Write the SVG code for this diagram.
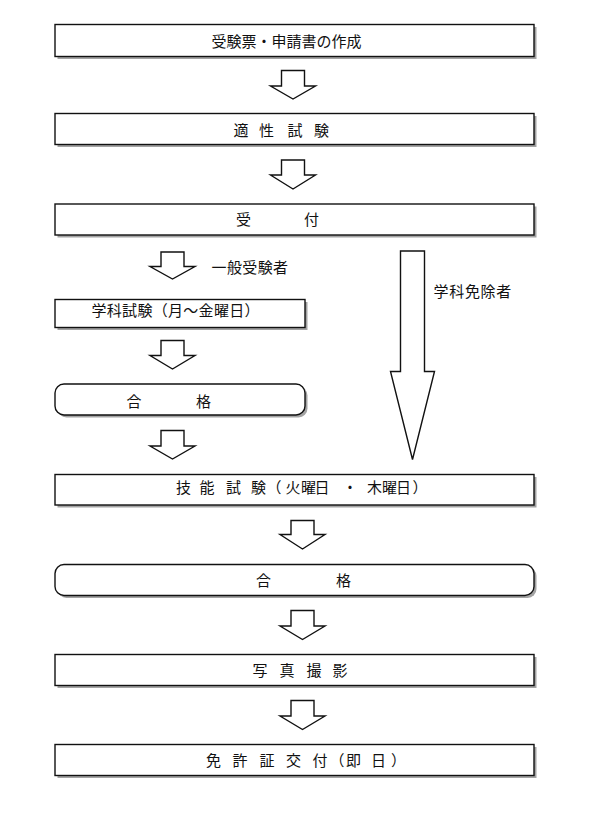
<svg xmlns="http://www.w3.org/2000/svg" width="590" height="820" viewBox="0 0 590 820">
<defs>
<style>
.bg{fill:#ffffff}
.shadow{fill:#a3a3a3;stroke:none}
.box{fill:#ffffff;stroke:#111111;stroke-width:1.4}
.arrow{fill:#ffffff;stroke:#111111;stroke-width:1.4;stroke-linejoin:miter}
text{font-family:"Noto Sans CJK JP","Noto Sans CJK SC",sans-serif;font-size:15px;fill:#111111}
</style>
</defs>
<rect class="bg" x="0" y="0" width="590" height="820"/>

<g id="connectors">
  <polygon class="arrow" points="281.5,70.5 304.5,70.5 304.5,86 315.5,86 293,99 270.5,86 281.5,86"/>
  <polygon class="arrow" points="281.5,160 304.5,160 304.5,175 315.5,175 293,189 270.5,175 281.5,175"/>
  <polygon class="arrow" points="161,252 184,252 184,266.5 195,266.5 172.5,279 150,266.5 161,266.5"/>
  <text x="211.5" y="273" letter-spacing="0.4">一般受験者</text>
  <polygon class="arrow" points="161,340.5 184,340.5 184,355.5 195,355.5 172.5,369 150,355.5 161,355.5"/>
  <polygon class="arrow" points="161,430.5 184,430.5 184,446 195,446 172.5,459 150,446 161,446"/>
  <polygon class="arrow" points="400.5,251 424.5,251 424.5,371.5 434.5,371.5 412.5,459.5 390.5,371.5 400.5,371.5"/>
  <text x="433.5" y="297.3" letter-spacing="0.7">学科免除者</text>
  <polygon class="arrow" points="291,520.5 314,520.5 314,534.5 325,534.5 302.5,549 280,534.5 291,534.5"/>
  <polygon class="arrow" points="291,610.5 314,610.5 314,626 325,626 302.5,639.5 280,626 291,626"/>
  <polygon class="arrow" points="291,700.5 314,700.5 314,716 325,716 302.5,729.5 280,716 291,716"/>
</g>

<g id="node-sakusei">
  <rect class="shadow" x="57.5" y="27" width="479" height="32"/>
  <rect class="box" x="55" y="24.5" width="479" height="32"/>
  <text x="211.5" y="47.3">受験票・申請書の作成</text>
</g>

<g id="node-tekisei">
  <rect class="shadow" x="57.5" y="116" width="479" height="31"/>
  <rect class="box" x="55" y="113.5" width="479" height="31"/>
  <text x="233.5 248.5 259 274 287.5 302.5 314" y="136.3">適 性 試 験</text>
</g>

<g id="node-uketsuke">
  <rect class="shadow" x="57.5" y="206.5" width="479" height="31"/>
  <rect class="box" x="55" y="204" width="479" height="31"/>
  <text x="236 251 304" y="225">受 付</text>
</g>

<g id="node-gakka">
  <rect class="shadow" x="57.5" y="302" width="250" height="28"/>
  <rect class="box" x="55" y="299.5" width="250" height="28"/>
  <text x="91.5" y="316" letter-spacing="0.3">学科試験（月～金曜日）</text>
</g>

<g id="node-goukaku1">
  <rect class="shadow" x="57.5" y="386.5" width="250" height="31" rx="9"/>
  <rect class="box" x="55" y="384" width="250" height="31" rx="9"/>
  <text x="126.5 141.5 196" y="406.5">合 格</text>
</g>

<g id="node-ginou">
  <rect class="shadow" x="57.5" y="477" width="479" height="30.5"/>
  <rect class="box" x="55" y="474.5" width="479" height="30.5"/>
  <text x="176 191 199.5 214.5 226 241 251 266 266.5 285.5 301 314.5 331 342.5 357.5 367 382 396 412.5" y="492.6">技 能 試 験 （火曜日 ・ 木曜日）</text>
</g>

<g id="node-goukaku2">
  <rect class="shadow" x="57.5" y="567" width="479" height="31" rx="9"/>
  <rect class="box" x="55" y="564.5" width="479" height="31" rx="9"/>
  <text x="256 271 336" y="586">合 格</text>
</g>

<g id="node-shashin">
  <rect class="shadow" x="57.5" y="657" width="479" height="31"/>
  <rect class="box" x="55" y="654.5" width="479" height="31"/>
  <text x="252.5 267.5 279.5 294.5 306.5 321.5 332.5" y="676.4">写 真 撮 影</text>
</g>

<g id="node-koufu">
  <rect class="shadow" x="57.5" y="747" width="479" height="31"/>
  <rect class="box" x="55" y="744.5" width="479" height="31"/>
  <text x="206 221 232.5 247.5 259.5 274.5 286 301 312.5 329.5 346 361 371 391" y="765.7">免 許 証 交 付（即 日）</text>
</g>
</svg>
